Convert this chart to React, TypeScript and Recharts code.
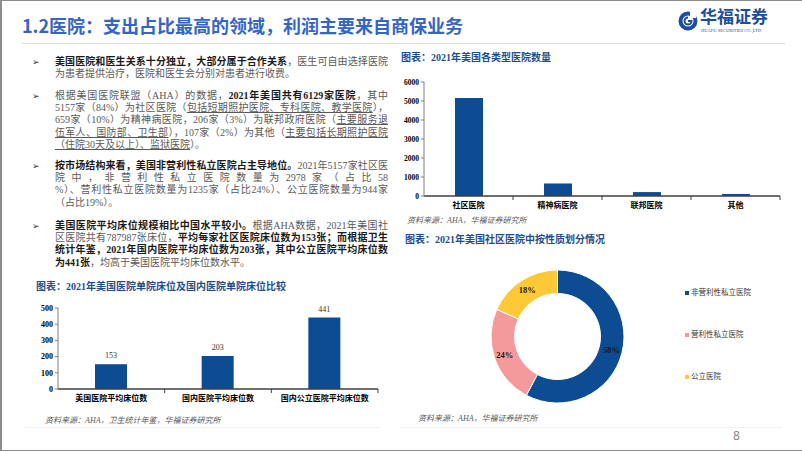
import React from 'react';
import { BarChart, Bar, XAxis, YAxis, PieChart, Pie, Cell, Legend, LabelList } from 'recharts';

// chart data
const typeCategories = ['社区医院', '精神病医院', '联邦医院', '其他'];
const typeCounts = [5157, 659, 206, 107];
const typeTicks = [0, 1000, 2000, 3000, 4000, 5000, 6000];

const bedCategories = ['美国医院平均床位数', '国内医院平均床位数', '国内公立医院平均床位数'];
const bedValues = [153, 203, 441];
const bedTicks = [0, 100, 200, 300, 400, 500];

const ownershipNames = ['非营利性私立医院', '营利性私立医院', '公立医院'];
const ownershipCounts = [2978, 1235, 944];
const ownershipColors = ['#0b4c93', '#f59a9c', '#fdc937'];

const FONT = '"Liberation Serif", "Noto Sans CJK SC", serif';
const BAR_BLUE = '#0b4c93';
const TITLE_BLUE = '#1f4e8c';

type Seg = { t: string; b?: boolean; u?: boolean };

const bullets: { top: number; lines: Seg[][] }[] = [
    {
        top: 56,
        lines: [
            [{ t: '美国医院和医生关系十分独立，大部分属于合作关系', b: true }, { t: '，医生可自由选择医院' }],
            [{ t: '为患者提供治疗，医院和医生会分别对患者进行收费。' }],
        ],
    },
    {
        top: 90,
        lines: [
            [{ t: '根据美国医院联盟（AHA）的数据，' }, { t: '2021年美国共有6129家医院', b: true }, { t: '，其中' }],
            [{ t: '5157家（84%）为社区医院（' }, { t: '包括短期照护医院、专科医院、教学医院', u: true }, { t: '），' }],
            [{ t: '659家（10%）为精神病医院，206家（3%）为联邦政府医院（' }, { t: '主要服务退', u: true }],
            [{ t: '伍军人、国防部、卫生部', u: true }, { t: '），107家（2%）为其他（' }, { t: '主要包括长期照护医院', u: true }],
            [{ t: '（住院30天及以上）、监狱医院', u: true }, { t: '）。' }],
        ],
    },
    {
        top: 160,
        lines: [
            [{ t: '按市场结构来看，美国非营利性私立医院占主导地位。', b: true }, { t: '2021年5157家社区医' }],
            [{ t: '院中，非营利性私立医院数量为2978家（占比58' }],
            [{ t: '%）、营利性私立医院数量为1235家（占比24%）、公立医院数量为944家' }],
            [{ t: '（占比19%）。' }],
        ],
    },
    {
        top: 220,
        lines: [
            [{ t: '美国医院平均床位规模相比中国水平较小。', b: true }, { t: '根据AHA数据，2021年美国社' }],
            [{ t: '区医院共有787987张床位，' }, { t: '平均每家社区医院床位数为153张；而根据卫生', b: true }],
            [{ t: '统计年鉴，2021年国内医院平均床位数为203张，其中公立医院平均床位数', b: true }],
            [{ t: '为441张', b: true }, { t: '，均高于美国医院平均床位数水平。' }],
        ],
    },
];

const LINE_H = 12.2;

const BulletBlock = ({ top, lines }: { top: number; lines: Seg[][] }) => (
    <>
        <div style={{ position: 'absolute', left: 32, top, fontSize: 9, lineHeight: `${LINE_H}px`, fontFamily: '"DejaVu Sans"', color: '#333' }}>➢</div>
        {lines.map((line, i) => {
            const last = i === lines.length - 1;
            return (
                <div
                    key={i}
                    style={{
                        position: 'absolute',
                        left: 55,
                        top: top + i * LINE_H,
                        width: 333,
                        height: LINE_H,
                        lineHeight: `${LINE_H}px`,
                        fontSize: 10,
                        fontFamily: FONT,
                        whiteSpace: 'nowrap',
                        textAlign: last ? 'left' : 'justify',
                        textAlignLast: last ? 'left' : 'justify',
                        color: '#595959',
                    }}
                >
                    {line.map((s, j) => (
                        <span key={j} style={{ fontWeight: s.b ? 700 : 400, color: s.b ? '#1a1a1a' : undefined, textDecoration: s.u ? 'underline' : 'none' }}>{s.t}</span>
                    ))}
                </div>
            );
        })}
    </>
);

const ChartTitle = ({ left, top, text }: { left: number; top: number; text: string }) => (
    <div style={{ position: 'absolute', left, top, fontSize: 10, lineHeight: '12px', fontWeight: 700, color: TITLE_BLUE, fontFamily: FONT, whiteSpace: 'nowrap' }}>{text}</div>
);

const Source = ({ left, top, text }: { left: number; top: number; text: string }) => (
    <div style={{ position: 'absolute', left, top, fontSize: 8, lineHeight: '10px', fontStyle: 'italic', color: '#595959', fontFamily: FONT, whiteSpace: 'nowrap' }}>{text}</div>
);

// category tick with a small mark at the band boundary, like the original axis
const makeCatTick = (band: number) => (props: any) => {
    const { x, y, payload } = props;
    const axisY = y - 6;
    return (
        <g>
            <line x1={x + band / 2} x2={x + band / 2} y1={axisY} y2={axisY + 4} stroke="#3f3f3f" strokeWidth={1} />
            <text x={x} y={y} dy="0.71em" textAnchor="middle" fontSize={8} fontWeight={700} fill="#000" fontFamily={FONT}>{payload.value}</text>
        </g>
    );
};

const yTickStyle = { fontSize: 7.5, fontWeight: 700, fill: '#000', fontFamily: FONT };

const pieLabel = (props: any) => {
    const { cx, cy, midAngle, innerRadius, outerRadius, percent } = props;
    const r = (innerRadius + outerRadius) / 2 + 1;
    const rad = Math.PI / 180;
    const x = cx + r * Math.cos(-midAngle * rad);
    const y = cy + r * Math.sin(-midAngle * rad);
    return (
        <text x={x} y={y} textAnchor="middle" dominantBaseline="central" fontSize={8.5} fontWeight={700} fill="#1a1a1a" fontFamily={FONT}>
            {`${Math.round(percent * 100)}%`}
        </text>
    );
};

const Logo = () => (
    <div style={{ position: 'absolute', left: 678, top: 8 }}>
        <svg width={20} height={20} style={{ position: 'absolute', left: 0, top: 3 }}>
            <circle cx={10} cy={10} r={7.5} fill="none" stroke="#1a4fa0" strokeWidth={4} />
            <path d="M10 6.5 A3.5 3.5 0 1 0 13.5 10 L10 10" fill="none" stroke="#1a4fa0" strokeWidth={2} />
            <rect x={12} y={1} width={6} height={6} fill="#fff" />
        </svg>
        <div style={{ position: 'absolute', left: 22, top: 0, fontSize: 17, lineHeight: '20px', fontWeight: 700, color: '#1a4fa0', fontFamily: FONT, whiteSpace: 'nowrap' }}>华福证券</div>
        <div style={{ position: 'absolute', left: 23, top: 20, fontSize: 4.5, lineHeight: '5px', color: '#1a4fa0', fontFamily: FONT, whiteSpace: 'nowrap' }}>HUAFU SECURITIES CO.,LTD</div>
    </div>
);

export default function App() {
    const typeData = typeCategories.map((name, i) => ({ name, value: typeCounts[i] }));
    const bedData = bedCategories.map((name, i) => ({ name, value: bedValues[i] }));
    const pieData = ownershipNames.map((name, i) => ({ name, value: ownershipCounts[i] }));

    return (
        <div style={{ position: 'fixed', left: 0, top: 0, width: 802, height: 452, background: '#fff', overflow: 'hidden' }}>
            <div style={{ position: 'absolute', left: 0, top: 0, width: 800, height: 449, border: '1px solid #8c8c8c', borderLeftWidth: 2 }} />

            {/* header */}
            <div style={{ position: 'absolute', left: 22, top: 13, fontSize: 18, lineHeight: '24px', fontWeight: 700, color: '#3465c4', fontFamily: '"Noto Sans CJK SC", sans-serif', whiteSpace: 'nowrap' }}>
                1.2医院：支出占比最高的领域，利润主要来自商保业务
            </div>
            <Logo />
            <div style={{ position: 'absolute', left: 22, top: 43, width: 763, height: 1, background: '#d9d9d9' }} />

            {bullets.map((b, i) => <BulletBlock key={i} top={b.top} lines={b.lines} />)}

            {/* bottom-left: beds per hospital */}
            <ChartTitle left={36} top={281} text="图表：2021年美国医院单院床位及国内医院单院床位比较" />
            <div style={{ position: 'absolute', left: 14, top: 298 }}>
                <BarChart width={370} height={115} data={bedData} margin={{ top: 10, right: 6, bottom: 0, left: 0 }}>
                    <XAxis dataKey="name" height={24} axisLine={{ stroke: '#3f3f3f', strokeWidth: 1.5 }} tickLine={false} tickSize={4} tickMargin={2}
                        tick={makeCatTick(320 / bedCategories.length)} interval={0} />
                    <YAxis width={44} domain={[0, 500]} ticks={bedTicks} axisLine={{ stroke: '#7f7f7f' }} tickLine={{ stroke: '#7f7f7f' }} tickSize={3}
                        tick={{ ...yTickStyle, fontSize: 8 }} interval={0} />
                    <Bar dataKey="value" fill={BAR_BLUE} barSize={32} isAnimationActive={false}>
                        <LabelList dataKey="value" position="top" offset={6} style={{ fontSize: 8, fill: '#333', fontFamily: FONT }} />
                    </Bar>
                </BarChart>
            </div>
            <Source left={45} top={416} text="资料来源：AHA，卫生统计年鉴，华福证券研究所" />
            <div style={{ position: 'absolute', left: 25, top: 427, width: 355, height: 1, background: '#f0f0f0' }} />

            {/* top-right: hospital counts */}
            <ChartTitle left={401} top={52} text="图表：2021年美国各类型医院数量" />
            <div style={{ position: 'absolute', left: 380, top: 72 }}>
                <BarChart width={405} height={150} data={typeData} margin={{ top: 10, right: 5, bottom: 0, left: 0 }}>
                    <XAxis dataKey="name" height={26} axisLine={{ stroke: '#3f3f3f', strokeWidth: 1.5 }} tickLine={false} tickSize={4} tickMargin={2}
                        tick={makeCatTick(356 / typeCategories.length)} interval={0} />
                    <YAxis width={44} domain={[0, 6000]} ticks={typeTicks} axisLine={{ stroke: '#7f7f7f' }} tickLine={{ stroke: '#7f7f7f' }} tickSize={3}
                        tick={yTickStyle} interval={0} />
                    <Bar dataKey="value" fill={BAR_BLUE} barSize={28} isAnimationActive={false} />
                </BarChart>
            </div>
            <Source left={407} top={216} text="资料来源：AHA，华福证券研究所" />

            {/* bottom-right: ownership donut */}
            <ChartTitle left={405} top={234} text="图表：2021年美国社区医院中按性质划分情况" />
            <div style={{ position: 'absolute', left: 440, top: 250 }}>
                <PieChart width={360} height={165}>
                    <Pie data={pieData} dataKey="value" nameKey="name" cx={112.5} cy={81.5} innerRadius={43} outerRadius={66.5}
                        startAngle={90} endAngle={-270} stroke="#fff" strokeWidth={1} label={pieLabel} labelLine={false} isAnimationActive={false}>
                        {pieData.map((d, i) => <Cell key={d.name} fill={ownershipColors[i]} />)}
                    </Pie>
                    <Legend layout="vertical" wrapperStyle={{ left: 245, top: 36, width: 110 }}
                        content={() => (
                            <div>
                                {ownershipNames.map((n, i) => (
                                    <div key={n} style={{ height: 42, display: 'flex', alignItems: 'flex-start' }}>
                                        <span style={{ width: 4, height: 4, background: ownershipColors[i], marginTop: 5, marginRight: 2 }} />
                                        <span style={{ fontSize: 7.5, lineHeight: '14px', color: '#333', fontFamily: FONT, whiteSpace: 'nowrap' }}>{n}</span>
                                    </div>
                                ))}
                            </div>
                        )} />
                </PieChart>
            </div>
            <Source left={418} top={414} text="资料来源：AHA，华福证券研究所" />
            <div style={{ position: 'absolute', left: 400, top: 427, width: 382, height: 1, background: '#f0f0f0' }} />

            <div style={{ position: 'absolute', left: 733, top: 429, fontSize: 12, lineHeight: '14px', color: '#7f7f7f', fontFamily: '"Open Sans", sans-serif' }}>8</div>
        </div>
    );
}
